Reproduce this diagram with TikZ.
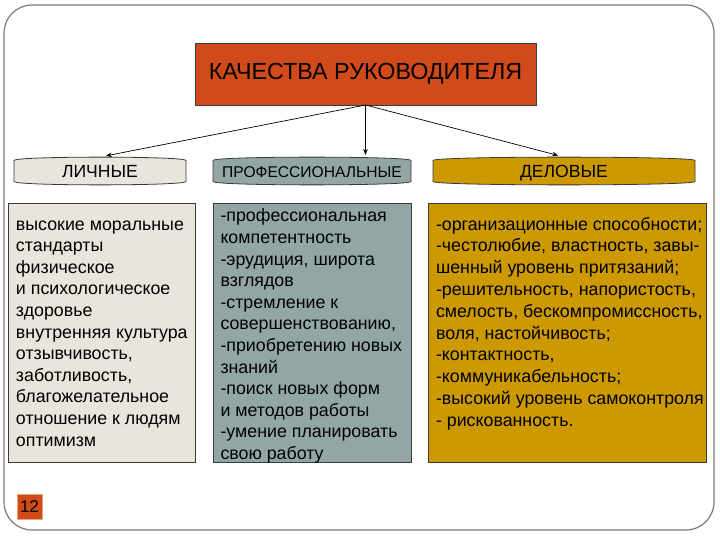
\documentclass[tikz,border=0pt]{standalone}
\usepackage{fontspec}
\setmainfont{Liberation Sans}
\usetikzlibrary{arrows.meta,backgrounds}
\definecolor{titlered}{HTML}{D14A19}
\definecolor{lightbox}{HTML}{E9E5DC}
\definecolor{profbox}{HTML}{93A6A6}
\definecolor{goldbox}{HTML}{CC9900}
\definecolor{framegray}{HTML}{7A7A7A}
\definecolor{edgecol}{HTML}{3A3A3A}
\definecolor{numedge}{HTML}{F2A47A}
\newcommand\bodyfont{\fontsize{17.8}{21.6}\selectfont}
\newcommand\catshape[2]{%
  \path[catline,fill=#2]
    ([yshift=-3.5pt]#1.north west) -- ([yshift=3.5pt]#1.south west)
    .. controls ([yshift=-1pt]#1.south west) and ([yshift=-1pt]#1.south east) .. ([yshift=3.5pt]#1.south east)
    -- ([yshift=-3.5pt]#1.north east)
    .. controls ([yshift=1pt]#1.north east) and ([yshift=1pt]#1.north west) .. ([yshift=-3.5pt]#1.north west)
    -- cycle;}
\begin{document}
\begin{tikzpicture}[x=1pt,y=-1pt,
  box/.style={draw=edgecol,line width=0.9pt,inner sep=0pt,outer sep=0pt},
  cat/.style={inner sep=0pt,outer sep=0pt,minimum height=28pt,text height=13pt,text depth=0pt,
              font=\fontsize{17.6}{20}\selectfont},
  bodytext/.style={inner sep=0pt,outer sep=0pt,anchor=base west},
  link/.style={-{Stealth[length=6pt,width=4.5pt]},line width=0.7pt},
  catline/.style={draw=edgecol,line width=0.8pt}]
\useasboundingbox (0,0) rectangle (720,540);
\draw[framegray,line width=1.2pt,rounded corners=28pt] (4,5) rectangle (714,530);

% title
\node[box,fill=titlered,minimum width=341pt,minimum height=62pt,
      font=\fontsize{23.3}{27}\selectfont] (title) at (365.5,74) {КАЧЕСТВА РУКОВОДИТЕЛЯ};

% categories
\node[cat,minimum width=172pt] (lich) at (100,171) {ЛИЧНЫЕ};
\node[cat,minimum width=198pt,font=\fontsize{15.6}{18}\selectfont] (prof) at (312,171) {ПРОФЕССИОНАЛЬНЫЕ};
\node[cat,minimum width=262pt] (del) at (564,171) {ДЕЛОВЫЕ};
\begin{scope}[on background layer]
  \catshape{lich}{lightbox}
  \catshape{prof}{profbox}
  \catshape{del}{goldbox}
\end{scope}

% connectors
\draw[link,shorten >=6pt] (title.south) -- (lich.north);
\draw[link,shorten >=2pt] (title.south) -- (title.south |- prof.north);
\draw[link,shorten >=6pt] (title.south) -- (del.north);

% content boxes
\node[box,fill=lightbox,minimum width=187pt,minimum height=259pt,anchor=north west] (lbox) at (8,203) {};
\node[box,fill=profbox,minimum width=198pt,minimum height=259pt,anchor=north west] (pbox) at (213,203) {};
\node[box,fill=goldbox,minimum width=278pt,minimum height=259pt,anchor=north west] (dbox) at (428,203) {};

\node[bodytext] (ltext) at (16,230) {\parbox[t]{185pt}{\bodyfont\raggedright
высокие моральные\\
стандарты\\
физическое\\
и психологическое\\
здоровье\\
внутренняя культура\\
отзывчивость,\\
заботливость,\\
благожелательное\\
отношение к людям\\
оптимизм}};

\node[bodytext] (ptext) at (220.5,222) {\parbox[t]{195pt}{\bodyfont\raggedright
-профессиональная\\
компетентность\\
-эрудиция, широта\\
взглядов\\
-стремление к\\
совершенствованию,\\
-приобретению новых\\
знаний\\
-поиск новых форм\\
и методов работы\\
-умение планировать\\
свою работу}};

\node[bodytext] (dtext) at (436,230) {\parbox[t]{290pt}{\fontsize{17.8}{21.8}\selectfont\raggedright
-организационные способности;\\
-честолюбие, властность, завы-\\
шенный уровень притязаний;\\
-решительность, напористость,\\
смелость, бескомпромиссность,\\
воля, настойчивость;\\
-контактность,\\
-коммуникабельность;\\
-высокий уровень самоконтроля\\
- рискованность.}};

% page number
\node[draw=numedge,line width=0.8pt,fill=titlered,inner sep=0pt,minimum width=25pt,minimum height=25pt,
      font=\fontsize{17}{20}\selectfont] (num) at (29.5,507) {12};
\end{tikzpicture}
\end{document}
